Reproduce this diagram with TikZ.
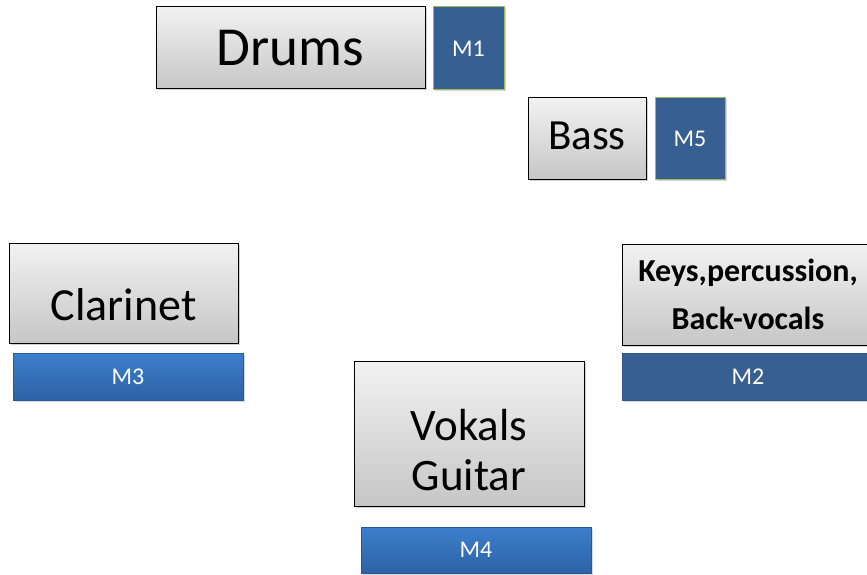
\documentclass[tikz,border=0pt]{standalone}
\usepackage{fontspec}
\setmainfont{Carlito}
\usetikzlibrary{shadows}
\definecolor{mblue}{HTML}{375F92}
\definecolor{mgreen}{HTML}{9BBB59}
\definecolor{gtop}{HTML}{F2F2F2}
\definecolor{gbot}{HTML}{C6C6C6}
\definecolor{ltop}{HTML}{3D7FCC}
\definecolor{lbot}{HTML}{2D62A6}
\tikzset{
  instbox/.style={draw=black, line width=1pt, top color=gtop, bottom color=gbot,
    inner sep=0pt, drop shadow={shadow xshift=1.5pt, shadow yshift=-1.5pt, opacity=0.35}},
  micsq/.style={draw=mgreen, line width=1pt, fill=mblue, text=white, inner sep=0pt,
    font=\fontsize{24}{28}\selectfont, drop shadow={shadow xshift=1.5pt, shadow yshift=-1.5pt, opacity=0.3}},
  micbar/.style={draw=lbot!90!black, line width=0.6pt, top color=ltop, bottom color=lbot, text=white, inner sep=0pt,
    font=\fontsize{24}{28}\selectfont, drop shadow={shadow xshift=1.5pt, shadow yshift=-1.5pt, opacity=0.3}},
  micbardark/.style={draw=mblue!90!black, line width=0.6pt, fill=mblue, text=white, inner sep=0pt,
    font=\fontsize{24}{28}\selectfont, drop shadow={shadow xshift=1.5pt, shadow yshift=-1.5pt, opacity=0.3}}
}
\begin{document}
\begin{tikzpicture}[x=1pt,y=1pt]
\useasboundingbox (0,0) rectangle (867,574);
\fill[white] (0,0) rectangle (867,574);
% Drums + M1
\node[instbox, minimum width=269pt, minimum height=82pt, font=\fontsize{55}{60}\selectfont] (drums) at (290.5,526) {Drums};
\node[micsq, minimum width=71pt, minimum height=83pt] (m1) at (468.5,525.5) {M1};
% Bass + M5
\node[instbox, minimum width=118pt, minimum height=82pt,
  label={[font=\fontsize{43}{48}\selectfont, yshift=3pt]center:Bass}] (bass) at (587,435) {};
\node[micsq, minimum width=70pt, minimum height=82pt] (m5) at (690,435) {M5};
% Clarinet + M3
\node[instbox, minimum width=229pt, minimum height=100pt,
  label={[font=\fontsize{46}{50}\selectfont, yshift=-12pt]center:Clarinet}] (clarinet) at (123.5,281) {};
\node[micbar, minimum width=230pt, minimum height=47pt] (m3) at (128,197.5) {M3};
% Keys + M2
\node[instbox, minimum width=252pt, minimum height=101pt, align=center,
  font=\bfseries\fontsize{32}{48}\selectfont] (keys) at (748,279.5) {Keys,percussion,\\Back-vocals};
\node[micbardark, minimum width=252pt, minimum height=47pt] (m2) at (748,197.5) {M2};
% Vokals Guitar + M4
\node[instbox, minimum width=230pt, minimum height=145pt,
  label={[font=\fontsize{45}{50}\selectfont, align=center, yshift=-17pt]center:Vokals\\Guitar}] (vokals) at (469,140.5) {};
\node[micbar, minimum width=230pt, minimum height=46pt] (m4) at (476,24) {M4};
\end{tikzpicture}
\end{document}
